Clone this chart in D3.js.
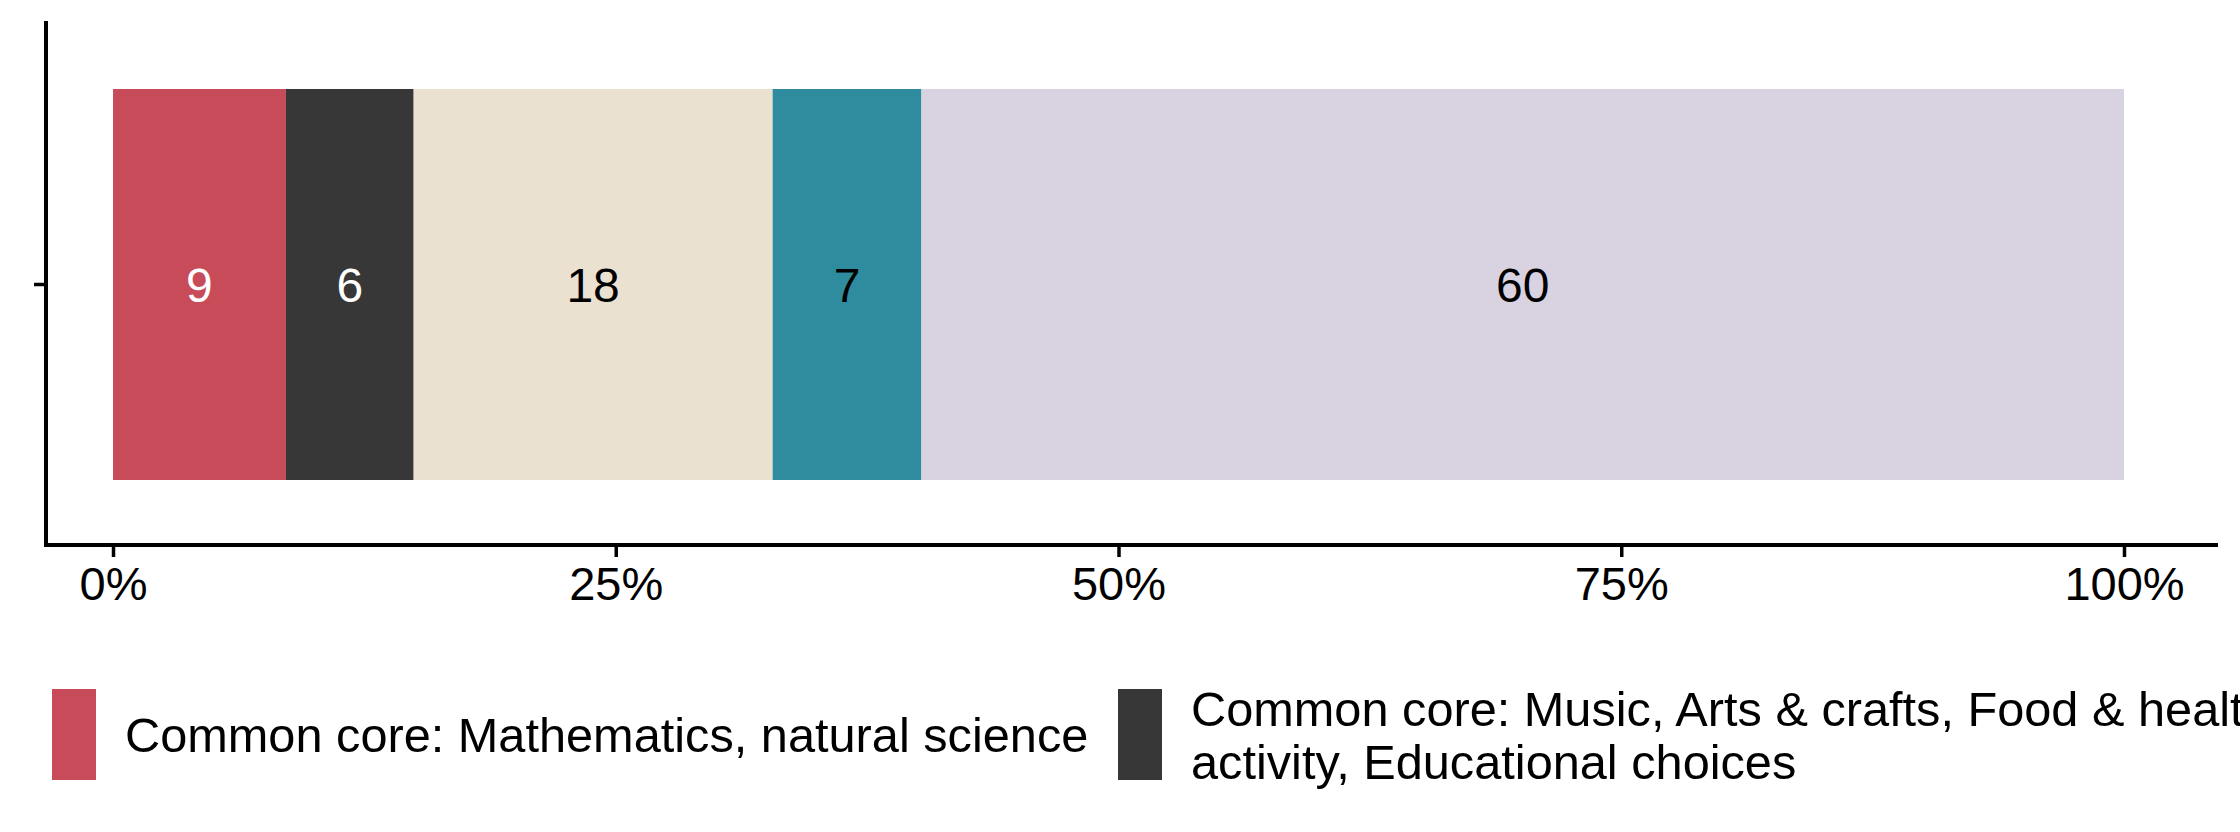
<!DOCTYPE html>
<html>
<head>
<meta charset="utf-8">
<script src="https://cdn.jsdelivr.net/npm/d3@7"></script>
<style>
  html, body { margin: 0; padding: 0; background: #fff; }
  svg { display: block; font-family: "Liberation Sans", Arial, Helvetica, sans-serif; }
</style>
</head>
<body>
<svg id="chart" width="2240" height="832"></svg>
<script>
// ---- data ----
const categories = [
  "Common core: Mathematics, natural science",
  "Common core: Music, Arts & crafts, Food & health, Physical activity, Educational choices",
  "Segment 3",
  "Segment 4",
  "Segment 5"
];
const shares = [8.6, 6.35, 17.85, 7.4, 59.8];        // percent of total
const valueLabels = ["9", "6", "18", "7", "60"];
const colors = ["#C84B5A", "#373737", "#EBE1D1", "#2E8C9E", "#D9D2E0"];
const labelColors = ["#ffffff", "#ffffff", "#000000", "#000000", "#000000"];
const xTicks = [0, 0.25, 0.5, 0.75, 1];
const legendLines = [
  ["Common core: Mathematics, natural science"],
  ["Common core: Music, Arts & crafts, Food & health, Physical", "activity, Educational choices"]
];

// ---- layout ----
const svg = d3.select("#chart");
const panel = { left: 46, right: 2218, top: 21, bottom: 545 };

const x = d3.scaleLinear().domain([0, 1]).range([113, 2124]);

// stack
let cum = 0;
const total = d3.sum(shares);
const segs = shares.map((v, i) => {
  const s = { i, x0: cum / total, x1: (cum + v) / total };
  cum += v;
  return s;
});

const barTop = 89, barBottom = 480;
const yBar = d3.scaleLinear().domain([0, 1]).range([barBottom, barTop]);

svg.append("g").selectAll("rect").data(segs).join("rect")
  .attr("x", d => x(d.x0))
  .attr("width", d => x(d.x1) - x(d.x0))
  .attr("y", yBar(1))
  .attr("height", yBar(0) - yBar(1))
  .attr("fill", d => colors[d.i]);

svg.append("g").selectAll("text").data(segs).join("text")
  .attr("x", d => (x(d.x0) + x(d.x1)) / 2)
  .attr("y", (yBar(0) + yBar(1)) / 2)
  .attr("dy", "0.36em")
  .attr("text-anchor", "middle")
  .attr("font-size", 48)
  .attr("fill", d => labelColors[d.i])
  .text(d => valueLabels[d.i]);

// x axis
const xAxis = svg.append("g").attr("transform", `translate(0,${panel.bottom})`);
xAxis.append("line")
  .attr("x1", panel.left - 2).attr("x2", panel.right)
  .attr("stroke", "#000").attr("stroke-width", 4);
xAxis.append("g")
  .call(d3.axisBottom(x).tickValues(xTicks).tickFormat(d3.format(".0%")).tickSize(12).tickPadding(10))
  .call(g => g.select(".domain").remove())
  .call(g => g.selectAll(".tick line").attr("stroke", "#000").attr("stroke-width", 3.5))
  .call(g => g.selectAll(".tick text").attr("font-size", 47).attr("fill", "#000").attr("font-family", null));

// y axis
const yAxis = svg.append("g").attr("transform", `translate(${panel.left},0)`);
yAxis.append("line")
  .attr("y1", panel.top).attr("y2", panel.bottom + 2)
  .attr("stroke", "#000").attr("stroke-width", 4);
yAxis.append("line")
  .attr("x1", -12).attr("x2", 0)
  .attr("y1", (yBar(0) + yBar(1)) / 2).attr("y2", (yBar(0) + yBar(1)) / 2)
  .attr("stroke", "#000").attr("stroke-width", 3.5);

// legend
const legendX = [52, 1118];
const keyTop = 689, keyH = 91, keyW = 44;
const legend = svg.append("g");
legendLines.forEach((lines, i) => {
  const g = legend.append("g").attr("transform", `translate(${legendX[i]},${keyTop})`);
  g.append("rect").attr("width", keyW).attr("height", keyH).attr("fill", colors[i]);
  const lh = 53;
  const mid = keyH / 2;
  const t = g.append("text").attr("font-size", 48.7).attr("fill", "#000");
  lines.forEach((ln, j) => {
    t.append("tspan")
      .attr("x", keyW + 29)
      .attr("y", mid + (j - (lines.length - 1) / 2) * lh)
      .attr("dy", "0.36em")
      .text(ln);
  });
});
</script>
</body>
</html>
